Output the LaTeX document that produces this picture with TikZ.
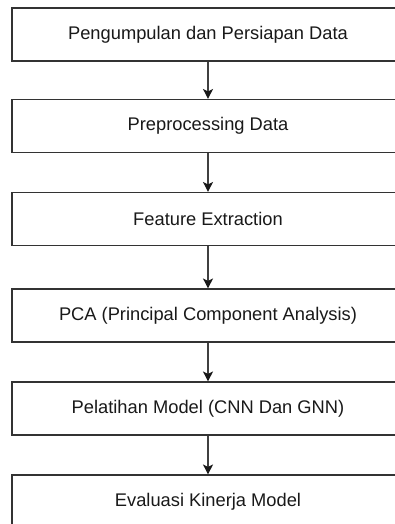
\documentclass[tikz,border=0pt]{standalone}
\usepackage{fontspec}
\setmainfont{Liberation Sans}
\usetikzlibrary{arrows.meta}
\begin{document}
\begin{tikzpicture}[x=1pt,y=-1pt,
  stepbox/.style={draw=black!80, line width=1.1pt, rectangle, minimum width=392pt, minimum height=53pt, inner sep=0pt, text=black!90, font=\fontsize{18.3}{22}\selectfont},
  flow/.style={draw=black!75, line width=1.1pt, -{Stealth[length=10pt,width=10pt,inset=2.5pt,color=black!90]}}]
\useasboundingbox (0,0) rectangle (395,524);
\clip (0,0) rectangle (395,524);
\fill[white] (0,0) rectangle (395,524);
\node[stepbox] (b1) at (208,34.5) {Pengumpulan dan Persiapan Data};
\node[stepbox] (b2) at (208,126) {Preprocessing Data};
\node[stepbox] (b3) at (208,219) {Feature Extraction};
\node[stepbox] (b4) at (208,315.5) {PCA (Principal Component Analysis)};
\node[stepbox] (b5) at (208,408.5) {Pelatihan Model (CNN Dan GNN)};
\node[stepbox] (b6) at (208,501.5) {Evaluasi Kinerja Model};
\draw[flow] (b1) -- (b2);
\draw[flow] (b2) -- (b3);
\draw[flow] (b3) -- (b4);
\draw[flow] (b4) -- (b5);
\draw[flow] (b5) -- (b6);
\end{tikzpicture}
\end{document}
